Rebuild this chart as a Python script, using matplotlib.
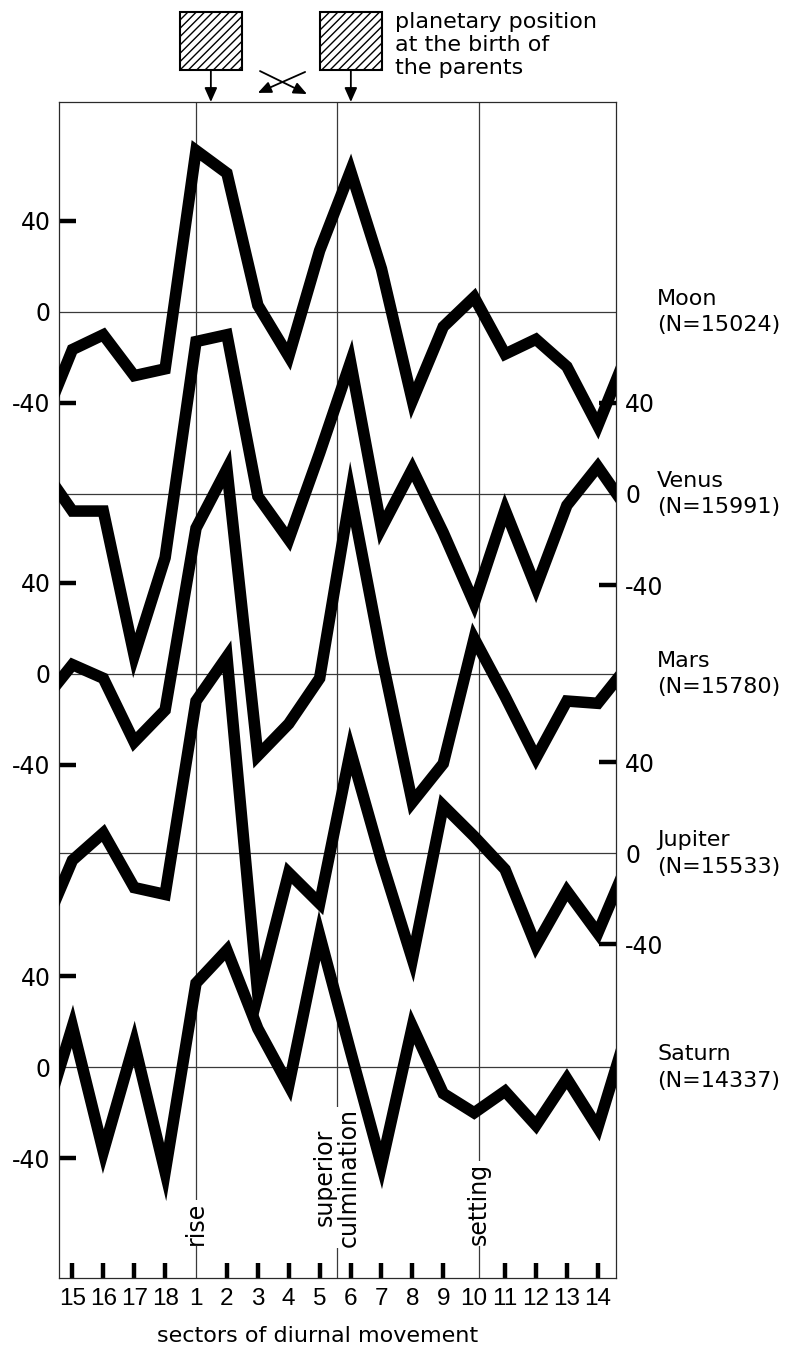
import numpy as np
import matplotlib
matplotlib.use("Agg")
import matplotlib.pyplot as plt
from matplotlib.patches import Rectangle

plt.rcParams['font.family'] = ['DejaVu Sans']
plt.rcParams['hatch.linewidth'] = 1.0

# sectors in drawing order (15..18 wrap round to 1..14)
sectors = ['15', '16', '17', '18', '1', '2', '3', '4', '5',
           '6', '7', '8', '9', '10', '11', '12', '13', '14']

planets = ['Moon', 'Venus', 'Mars', 'Jupiter', 'Saturn']
counts = [15024, 15991, 15780, 15533, 14337]

moon = [-16.5, -10, -28, -25, 71, 61, 3, -19.5, 27,
        62, 19, -39, -6.5, 6.5, -18.5, -12, -24, -50]
venus = [-7.5, -7.5, -71, -28, 67, 70, -1, -20, 18,
         58, -15, 11, -17, -48, -7, -41, -5, 12]
mars = [4, -2, -30, -16, 64, 90, -36, -22, -2,
        79, 8, -56.5, -39.5, 15.5, -10, -37, -12, -13]
jupiter = [-3, 9, -15, -18, 67, 86.5, -62, -8.5, -22,
           45, -3, -46.5, 21, 7.5, -7, -40.5, -16.5, -35]
saturn = [18, -37, 10.5, -46, 37, 51.5, 17, -8, 58,
          7, -43, 18, -11.5, -20, -10.5, -25.5, -5, -26.5]

# vertical shift of each curve's zero line
offsets = [0, -80, -159, -238, -332]

series = [moon, venus, mars, jupiter, saturn]
left_side = [True, False, True, False, True]

fig = plt.figure(figsize=(7.92, 13.5), dpi=100)
ax = fig.add_axes([59 / 792, 72 / 1350, 557 / 792, 1176 / 1350])
ax.set_xlim(-0.434, 17.59)
ax.set_ylim(-424.6, 92.3)

grid_kw = dict(color='#3a3a3a', lw=0.9, zorder=1)
for off in offsets:
    ax.axhline(off, **grid_kw)
for xv in (4, 8.55, 13.15):
    ax.axvline(xv, **grid_kw)

# the sectors are circular, so carry 14 and 15 past each edge
x = np.arange(-1, len(sectors) + 1)
for vals, off in zip(series, offsets):
    y = np.array([vals[-1]] + vals + [vals[0]]) + off
    ax.plot(x, y, color='black', lw=8.3, solid_joinstyle='miter',
            solid_capstyle='butt', zorder=3)

for s in ax.spines.values():
    s.set_linewidth(0.9)
    s.set_color('#2a2a2a')

# bottom axis
ax.set_xticks(range(len(sectors)))
ax.set_xticklabels(sectors, family='Liberation Sans', fontsize=17.5)
ax.tick_params(axis='x', direction='in', length=10.8, width=3.2, pad=7,
               top=False, color='black')
for i, t in enumerate(ax.xaxis.get_major_ticks()):
    if sectors[i] in ('1', '10'):
        t.tick1line.set_visible(False)

ax.set_xlabel('sectors of diurnal movement', fontsize=16)
ax.xaxis.set_label_coords(0.465, -0.041)

# left scales (Moon, Mars, Saturn)
lt = [o + d for o, l in zip(offsets, left_side) if l for d in (40, -40)]
ax.set_yticks(lt, ['40', '-40'] * 3)
ax.set_yticks([o for o, l in zip(offsets, left_side) if l], ['0'] * 3, minor=True)
ax.tick_params(axis='y', which='both', direction='in', length=12.2, width=3.2,
               pad=6, labelsize=17, color='black')
ax.tick_params(axis='y', which='minor', length=0)

# right scales (Venus, Jupiter)
ax2 = ax.twinx()
ax2.set_ylim(ax.get_ylim())
rt = [o + d for o, l in zip(offsets, left_side) if not l for d in (40, -40)]
ax2.set_yticks(rt, ['40', '-40'] * 2)
ax2.set_yticks([o for o, l in zip(offsets, left_side) if not l], ['0'] * 2,
               minor=True)
ax2.tick_params(axis='y', which='both', direction='in', length=12.2, width=3.2,
                pad=6.5, labelsize=17, color='black')
ax2.tick_params(axis='y', which='minor', length=0)
for s in ax2.spines.values():
    s.set_visible(False)

# planet names at each zero line
for name, n, off in zip(planets, counts, offsets):
    ax.text(18.92, off, f'{name}\n(N={n})', fontsize=16, ha='left',
            va='center', linespacing=1.4, clip_on=False)

# diurnal markers
mark_kw = dict(rotation=90, fontsize=17, ha='center', va='bottom', zorder=2,
               bbox=dict(facecolor='white', edgecolor='none', pad=1))
ax.text(4, -410, 'rise', **mark_kw)
ax.text(8.55, -411, 'superior\nculmination', linespacing=1.0, **mark_kw)
ax.text(13.15, -410, 'setting', **mark_kw)

# parents' positions above the frame
arrow_down = dict(arrowstyle='-|>,head_length=0.85,head_width=0.38',
                  color='black', lw=1.3, shrinkA=0, shrinkB=0)
for x0 in (3.48, 8.01):
    ax.add_patch(Rectangle((x0, 106.4), 2.01, 25.5, facecolor='white',
                           edgecolor='black', lw=1.5, hatch='////',
                           clip_on=False))
    xc = x0 + 1.0
    ax.annotate('', xy=(xc, 92.3), xytext=(xc, 106.4), annotation_clip=False,
                arrowprops=arrow_down)

arrow_cross = dict(arrowstyle='-|>,head_length=0.8,head_width=0.35',
                   color='black', lw=1.3, shrinkA=0, shrinkB=0)
for (xs, ys), (xe, ye) in [((7.53, 105.5), (6.0, 96.3)),
                           ((6.07, 105.9), (7.59, 95.8))]:
    ax.annotate('', xy=(xe, ye), xytext=(xs, ys), annotation_clip=False,
                arrowprops=arrow_cross)

ax.text(10.44, 131.9, 'planetary position\nat the birth of\nthe parents',
        fontsize=16, ha='left', va='top', linespacing=1.2, clip_on=False)

fig.savefig('out.png', dpi=100)
